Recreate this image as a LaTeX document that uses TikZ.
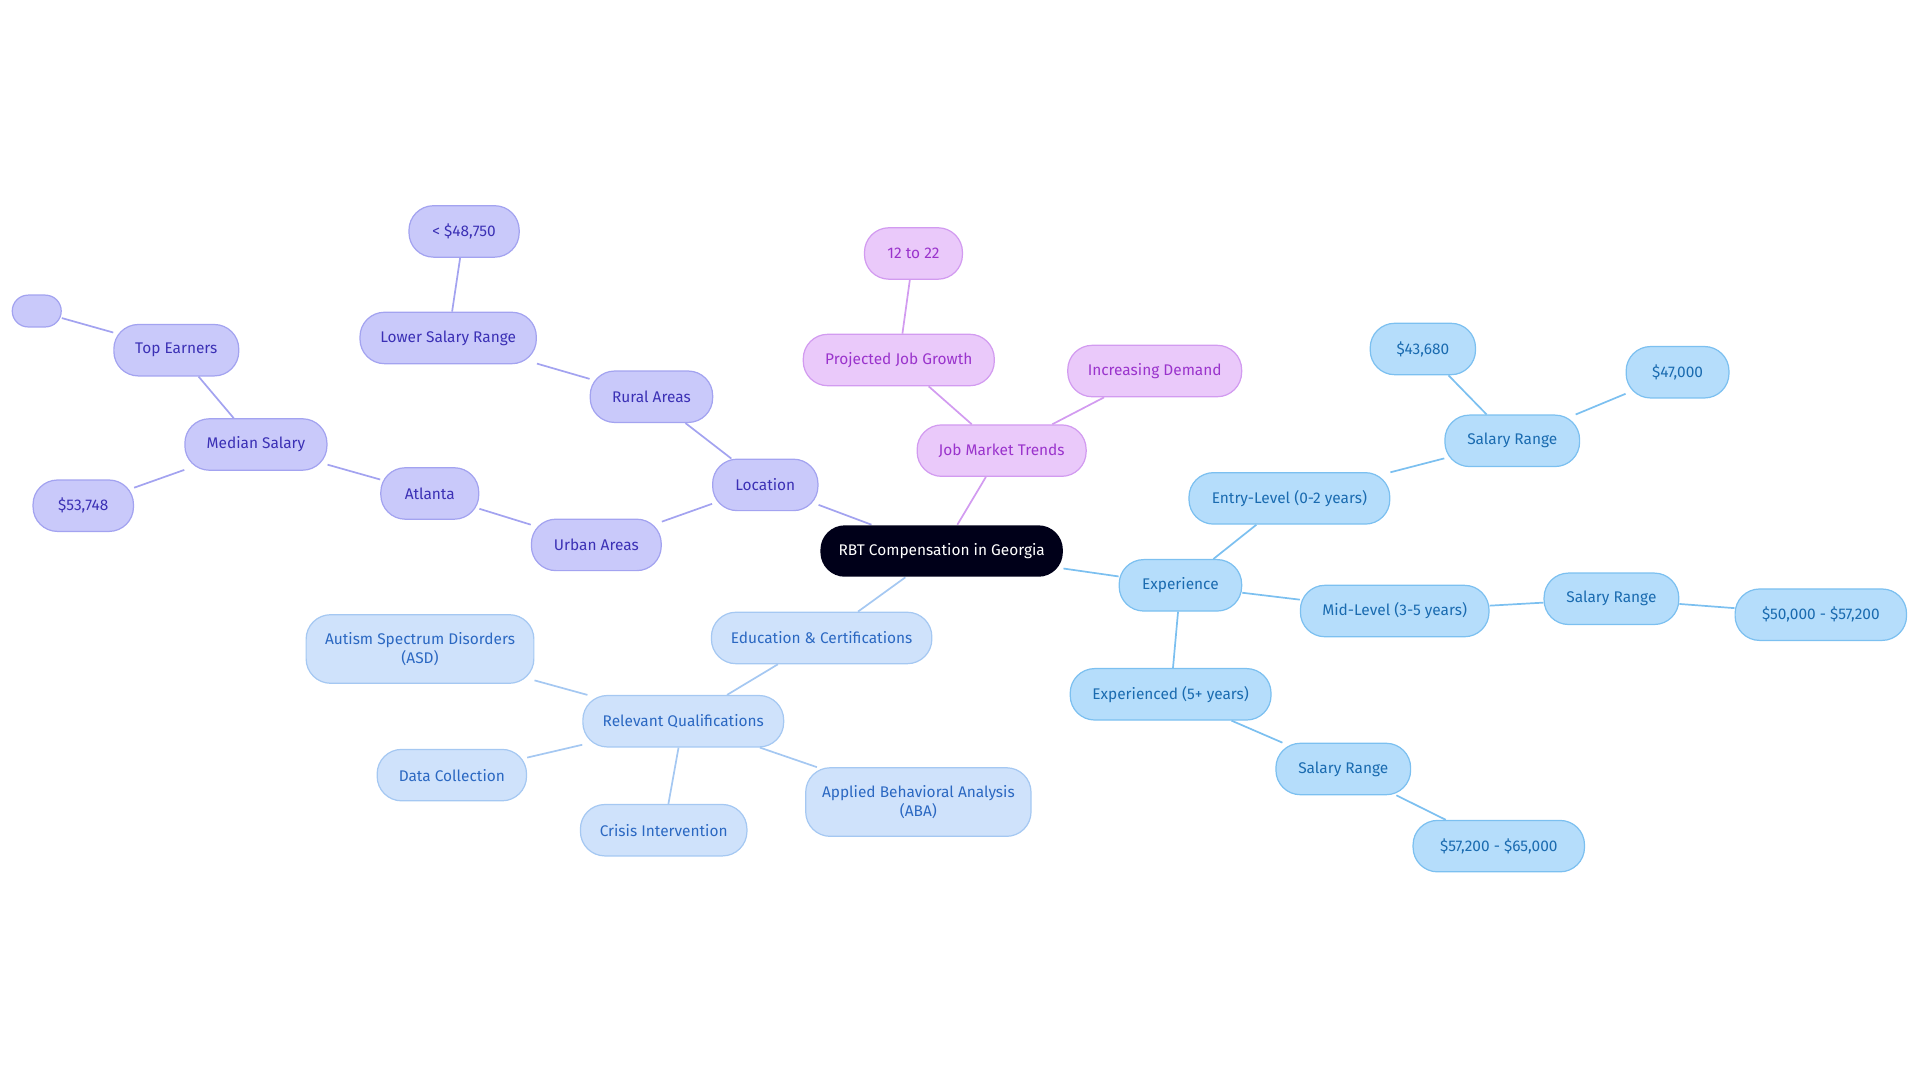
\documentclass[tikz,border=0pt]{standalone}
\usepackage{fontspec}
\setmainfont{Fira Sans}
\usetikzlibrary{backgrounds}
\definecolor{pf}{HTML}{C9C9FA}\definecolor{pd}{HTML}{A3A3F0}\definecolor{pt}{HTML}{3B30B5}
\definecolor{kf}{HTML}{EAC9FA}\definecolor{kd}{HTML}{D29BF0}\definecolor{kt}{HTML}{9A33CC}
\definecolor{bf}{HTML}{B5DDFB}\definecolor{bd}{HTML}{7CC0F0}\definecolor{bt}{HTML}{1A6BB0}
\definecolor{ef}{HTML}{CFE2FB}\definecolor{ed}{HTML}{A5C8F2}\definecolor{et}{HTML}{2B68C2}
\tikzset{x=0.5pt,y=-0.5pt,
 nb/.style={rounded corners=10pt,minimum height=21pt,inner xsep=2pt,font=\fontsize{6.3}{6.3}\selectfont,align=center,line width=0.5pt},
 pn/.style={nb,fill=pf,draw=pd,text=pt},
 kn/.style={nb,fill=kf,draw=kd,text=kt},
 bn/.style={nb,fill=bf,draw=bd,text=bt},
 en/.style={nb,fill=ef,draw=ed,text=et},
 pl/.style={draw=pd,line width=0.7pt},
 kl/.style={draw=kd,line width=0.7pt},
 bl/.style={draw=bd,line width=0.7pt},
 el/.style={draw=ed,line width=0.7pt}}
\begin{document}
\begin{tikzpicture}
\useasboundingbox (0,0) rectangle (1568,884);
\node[nb,fill=black!90!blue,text=white,minimum width=99pt] (c) at (769,450) {RBT Compensation in Georgia};
\node[pn,minimum width=43pt] (loc) at (625,396) {Location};
\node[pn,minimum width=50pt] (rur) at (532,324) {Rural Areas};
\node[pn,minimum width=72pt] (low) at (366,276) {Lower Salary Range};
\node[pn,minimum width=45pt] (lt) at (379,189) {< \$48,750};
\node[pn,minimum width=53pt] (urb) at (487,445) {Urban Areas};
\node[pn,minimum width=40pt] (atl) at (351,403) {Atlanta};
\node[pn,minimum width=58pt] (med) at (209,363) {Median Salary};
\node[pn,minimum width=51pt] (top) at (144,286) {Top Earners};
\node[pn,minimum width=20pt,minimum height=13pt,rounded corners=6.5pt] (emp) at (30,254) {};
\node[pn,minimum width=41pt] (m53) at (68,413) {\$53,748};
\node[kn,minimum width=69pt] (jmt) at (818,368) {Job Market Trends};
\node[kn,minimum width=78pt] (pjg) at (734,294) {Projected Job Growth};
\node[kn,minimum width=40pt] (tw) at (746,207) {12 to 22};
\node[kn,minimum width=71pt] (inc) at (943,303) {Increasing Demand};
\node[bn,minimum width=50pt] (exp) at (964,478) {Experience};
\node[bn,minimum width=82pt] (ent) at (1053,407) {Entry-Level (0-2 years)};
\node[bn,minimum width=55pt] (sr1) at (1235,360) {Salary Range};
\node[bn,minimum width=43pt] (a43) at (1162,285) {\$43,680};
\node[bn,minimum width=42pt] (a47) at (1370,304) {\$47,000};
\node[bn,minimum width=77pt] (mid) at (1139,499) {Mid-Level (3-5 years)};
\node[bn,minimum width=55pt] (sr2) at (1316,489) {Salary Range};
\node[bn,minimum width=70pt] (a50) at (1487,502) {\$50,000 - \$57,200};
\node[bn,minimum width=82pt] (exd) at (956,567) {Experienced (5+ years)};
\node[bn,minimum width=55pt] (sr3) at (1097,628) {Salary Range};
\node[bn,minimum width=70pt] (a57) at (1224,691) {\$57,200 - \$65,000};
\node[en,minimum width=90pt] (edu) at (671,521) {Education \& Certifications};
\node[en,minimum width=82pt] (rq) at (558,589) {Relevant Qualifications};
\node[en,minimum width=93pt,minimum height=28pt] (asd) at (343,530) {Autism Spectrum Disorders\\(ASD)};
\node[en,minimum width=61pt] (dc) at (369,633) {Data Collection};
\node[en,minimum width=68pt] (ci) at (542,678) {Crisis Intervention};
\node[en,minimum width=92pt,minimum height=28pt] (aba) at (750,655) {Applied Behavioral Analysis\\(ABA)};
\begin{scope}[on background layer]
\draw[pl] (c)--(loc) (loc)--(rur) (rur)--(low) (low)--(lt) (loc)--(urb) (urb)--(atl) (atl)--(med) (med)--(top) (top)--(emp) (med)--(m53);
\draw[kl] (c)--(jmt) (jmt)--(pjg) (pjg)--(tw) (jmt)--(inc);
\draw[bl] (c)--(exp) (exp)--(ent) (ent)--(sr1) (sr1)--(a43) (sr1)--(a47) (exp)--(mid) (mid)--(sr2) (sr2)--(a50) (exp)--(exd) (exd)--(sr3) (sr3)--(a57);
\draw[el] (c)--(edu) (edu)--(rq) (rq)--(asd) (rq)--(dc) (rq)--(ci) (rq)--(aba);
\end{scope}
\end{tikzpicture}
\end{document}
